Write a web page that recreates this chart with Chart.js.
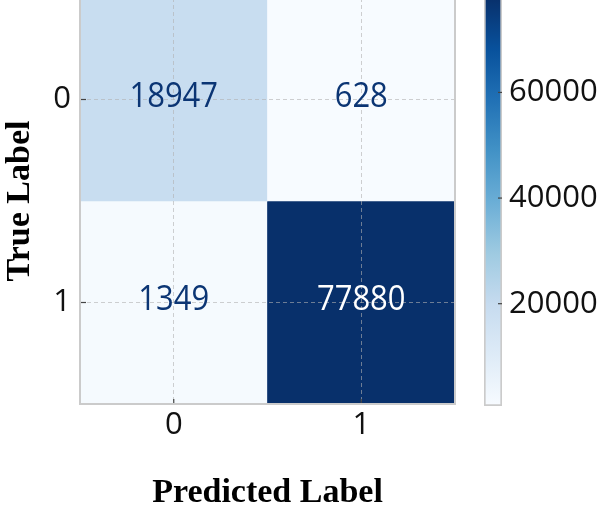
<!DOCTYPE html>
<html>
<head>
<meta charset="utf-8">
<script src="https://cdn.jsdelivr.net/npm/chart.js@4.4.1/dist/chart.umd.min.js"></script>
<style>
  html, body { margin: 0; padding: 0; background: #fff; }
  #wrap { position: relative; width: 603px; height: 516px; overflow: hidden; }
  #matrix { position: absolute; left: 0; top: -2px; }
  #cbar { position: absolute; left: 484px; top: -2px; }
</style>
</head>
<body>
<div id="wrap">
  <canvas id="matrix" width="470" height="518"></canvas>
  <canvas id="cbar" width="119" height="408"></canvas>
</div>
<script>
// confusion matrix values
const predictedLabels = ['0', '1'];
const trueLabels = ['0', '1'];
const countsTrue0 = [18947, 628];
const countsTrue1 = [1349, 77880];
const colorbarTicks = [20000, 40000, 60000];
const xTitle = 'Predicted Label';
const yTitle = 'True Label';

const rows = [countsTrue0, countsTrue1];
const vmin = Math.min(...rows.flat());
const vmax = Math.max(...rows.flat());

// matplotlib "Blues"
const blues = ['#f7fbff', '#deebf7', '#c6dbef', '#9ecae1', '#6baed6', '#4292c6', '#2171b5', '#08519c', '#08306b'];

function hexToRgb(h) {
    return [1, 3, 5].map(i => parseInt(h.slice(i, i + 2), 16));
}

function blueAt(t) {
    t = Math.max(0, Math.min(1, t));
    const pos = t * (blues.length - 1);
    const i = Math.min(Math.floor(pos), blues.length - 2);
    const f = pos - i;
    const a = hexToRgb(blues[i]), b = hexToRgb(blues[i + 1]);
    const c = a.map((v, k) => Math.round(v + (b[k] - v) * f));
    return `rgb(${c[0]}, ${c[1]}, ${c[2]})`;
}

const numFont = '"Open Sans", "DejaVu Sans", sans-serif';
const titleFont = { family: '"Liberation Serif", "Times New Roman", serif', size: 34, weight: 'bold' };
const gridColor = 'rgba(176, 176, 176, 0.6)';
const frameColor = '#cbcbcb';
const tickMarkColor = '#444';

Chart.defaults.font.family = numFont;
Chart.defaults.font.size = 31;
Chart.defaults.color = '#111';

// frame + inward tick marks
const framePlugin = {
    id: 'frame',
    afterDraw(chart) {
        const { ctx, chartArea: a, scales } = chart;
        ctx.save();
        ctx.strokeStyle = tickMarkColor;
        ctx.lineWidth = 1.2;
        scales.x.ticks.forEach((t, i) => {
            const x = scales.x.getPixelForTick(i);
            ctx.beginPath();
            ctx.moveTo(x, a.bottom);
            ctx.lineTo(x, a.bottom - 5);
            ctx.stroke();
        });
        scales.y.ticks.forEach(t => {
            const y = scales.y.getPixelForValue(t.value);
            ctx.beginPath();
            ctx.moveTo(a.left, y);
            ctx.lineTo(a.left + 6, y);
            ctx.stroke();
        });
        ctx.strokeStyle = frameColor;
        ctx.lineWidth = 2;
        ctx.strokeRect(a.left, a.top, a.right - a.left, a.bottom - a.top);
        ctx.restore();
    }
};

// counts written in the cells (slightly tall glyphs, like the source image)
const cellTextPlugin = {
    id: 'cellText',
    afterDraw(chart) {
        const { ctx } = chart;
        ctx.save();
        ctx.font = '31px ' + numFont;
        ctx.textAlign = 'center';
        ctx.textBaseline = 'middle';
        chart.data.datasets.forEach((ds, r) => {
            chart.getDatasetMeta(r).data.forEach((bar, c) => {
                const v = ds.counts[c];
                const t = (v - vmin) / (vmax - vmin);
                ctx.fillStyle = t > 0.5 ? '#ffffff' : '#0b3574';
                const p = bar.getCenterPoint();
                ctx.save();
                ctx.translate(p.x, p.y - 2);
                ctx.scale(1, 1.12);
                ctx.fillText(String(v), 0, 0);
                ctx.restore();
            });
        });
        ctx.restore();
    }
};

const matrixChart = new Chart(document.getElementById('matrix'), {
    type: 'bar',
    data: {
        labels: predictedLabels,
        datasets: rows.map((row, r) => ({
            data: row.map(() => [r - 0.5, r + 0.5]),
            counts: row,
            backgroundColor: row.map(v => blueAt((v - vmin) / (vmax - vmin))),
            borderWidth: 0,
            grouped: false,
            barPercentage: 1,
            categoryPercentage: 1,
        })),
    },
    options: {
        responsive: false,
        animation: false,
        layout: { padding: { right: 15 } },
        plugins: {
            legend: { display: false },
            tooltip: { enabled: false },
        },
        scales: {
            x: {
                grid: { offset: false, color: gridColor, lineWidth: 1, drawTicks: false, z: 1 },
                border: { display: false, dash: [4, 3] },
                ticks: { padding: 3, color: '#111' },
                title: { display: true, text: xTitle, font: titleFont, color: '#000', padding: { top: 0, bottom: 2 } },
                afterFit: s => { s.height = 112; s.paddingLeft = 0; s.paddingRight = 0; },
            },
            y: {
                min: -0.5,
                max: 1.5,
                reverse: true,
                afterBuildTicks: s => { s.ticks = trueLabels.map((_, i) => ({ value: i })); },
                grid: { color: gridColor, lineWidth: 1, drawTicks: false, z: 1 },
                border: { display: false, dash: [4, 3] },
                ticks: { padding: 9, color: '#111', callback: v => trueLabels[v] },
                title: { display: true, text: yTitle, font: titleFont, color: '#000', padding: { top: 0, bottom: 0 } },
                afterFit: s => { s.width = 80; s.paddingTop = 0; s.paddingBottom = 0; },
            },
        },
    },
    plugins: [framePlugin, cellTextPlugin],
});

// colorbar inward tick marks
const cbarTickPlugin = {
    id: 'cbarTicks',
    afterDraw(chart) {
        const { ctx, chartArea: a, scales } = chart;
        ctx.save();
        ctx.strokeStyle = tickMarkColor;
        ctx.lineWidth = 1.2;
        scales.y.ticks.forEach(t => {
            const y = scales.y.getPixelForValue(t.value);
            ctx.beginPath();
            ctx.moveTo(a.right - 4, y);
            ctx.lineTo(a.right, y);
            ctx.stroke();
        });
        ctx.restore();
    }
};

const cbarChart = new Chart(document.getElementById('cbar'), {
    type: 'bar',
    data: {
        labels: [''],
        datasets: [{
            data: [[vmin, vmax]],
            backgroundColor: c => {
                const area = c.chart.chartArea;
                if (!area) return blues[4];
                const g = c.chart.ctx.createLinearGradient(0, area.bottom, 0, area.top);
                blues.forEach((col, i) => g.addColorStop(i / (blues.length - 1), col));
                return g;
            },
            borderColor: frameColor,
            borderWidth: 2,
            borderSkipped: false,
            barPercentage: 1,
            categoryPercentage: 1,
        }],
    },
    options: {
        responsive: false,
        animation: false,
        plugins: {
            legend: { display: false },
            tooltip: { enabled: false },
        },
        scales: {
            x: { display: false },
            y: {
                position: 'right',
                min: vmin,
                max: vmax,
                afterBuildTicks: s => { s.ticks = colorbarTicks.map(v => ({ value: v })); },
                grid: { display: false, drawTicks: false },
                border: { display: false },
                ticks: { padding: 7, color: '#111', callback: v => String(v) },
                afterFit: s => { s.width = 101; s.paddingTop = 0; s.paddingBottom = 0; },
            },
        },
    },
    plugins: [cbarTickPlugin],
});
</script>
</body>
</html>
